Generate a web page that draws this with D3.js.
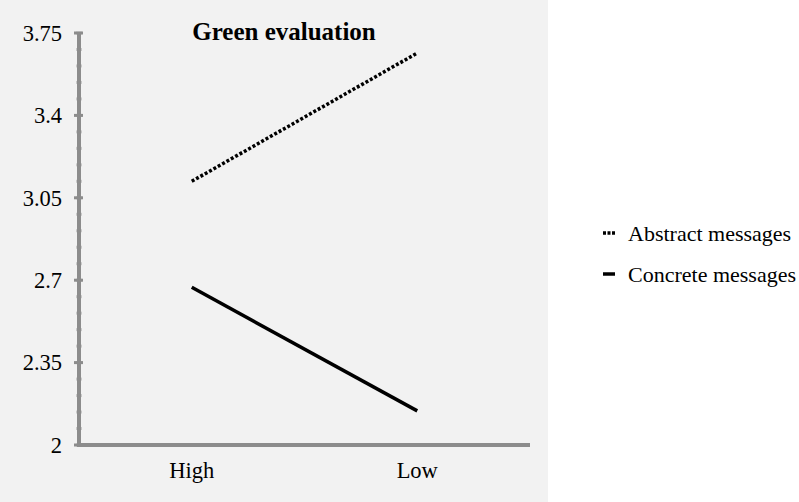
<!DOCTYPE html>
<html lang="en">
<head>
<meta charset="UTF-8">
<title>Green evaluation</title>
<script src="https://d3js.org/d3.v7.min.js"></script>
<style>
  body { margin: 0; background: #fff; }
  text { font-family: "Liberation Serif", "Times New Roman", serif; fill: #000; }
</style>
</head>
<body>
<svg id="chart"></svg>
<script>
// data
var categories = ["High", "Low"];
var seriesNames = ["Abstract messages", "Concrete messages"];
var abstractValues = [3.12, 3.665];
var concreteValues = [2.67, 2.145];
var yTicks = [2, 2.35, 2.7, 3.05, 3.4, 3.75];

var width = 799, height = 502;
var x0 = 79, x1 = 530, yTop = 33, yBottom = 445;

var svg = d3.select("#chart")
    .attr("width", width)
    .attr("height", height);

// gray plot panel
svg.append("rect")
    .attr("x", 0).attr("y", 0)
    .attr("width", 548).attr("height", height)
    .attr("fill", "#f2f2f2");

var x = d3.scalePoint().domain(categories).range([x0, x1]).padding(0.5);
var y = d3.scaleLinear().domain([2, 3.75]).range([yBottom, yTop]);

// minor ticks
var minor = d3.range(0, 26).map(function (i) { return 2 + i * 0.07; });
svg.selectAll(".minor")
    .data(minor)
  .enter().append("line")
    .attr("x1", x0 - 3).attr("x2", x0 + 3)
    .attr("y1", function (d) { return y(d); })
    .attr("y2", function (d) { return y(d); })
    .attr("stroke", "#c8c8c8")
    .attr("stroke-width", 3);

// major ticks
svg.selectAll(".major")
    .data(yTicks)
  .enter().append("line")
    .attr("x1", x0 - 5).attr("x2", x0 + 4)
    .attr("y1", function (d) { return y(d); })
    .attr("y2", function (d) { return y(d); })
    .attr("stroke", "#8c8c8c")
    .attr("stroke-width", 3);

// axes
svg.append("line")
    .attr("x1", x0).attr("x2", x0)
    .attr("y1", yTop).attr("y2", yBottom)
    .attr("stroke", "#8c8c8c").attr("stroke-width", 4);
svg.append("line")
    .attr("x1", x0 - 2).attr("x2", x1)
    .attr("y1", yBottom).attr("y2", yBottom)
    .attr("stroke", "#8c8c8c").attr("stroke-width", 4);

// tick labels
svg.selectAll(".ylab")
    .data(yTicks)
  .enter().append("text")
    .attr("x", 62)
    .attr("y", function (d) { return y(d); })
    .attr("dy", "0.35em")
    .attr("text-anchor", "end")
    .style("font-size", "22.5px")
    .text(function (d) { return d; });

svg.selectAll(".xlab")
    .data(categories)
  .enter().append("text")
    .attr("x", function (d) { return x(d); })
    .attr("y", 478)
    .attr("text-anchor", "middle")
    .style("font-size", "22.5px")
    .text(function (d) { return d; });

// title
svg.append("text")
    .attr("x", 284).attr("y", 40)
    .attr("text-anchor", "middle")
    .style("font-size", "25px")
    .style("font-weight", "bold")
    .text("Green evaluation");

// lines
var line = d3.line()
    .x(function (d, i) { return x(categories[i]); })
    .y(function (d) { return y(d); });

svg.append("path")
    .datum(abstractValues)
    .attr("d", line)
    .attr("fill", "none")
    .attr("stroke", "#000")
    .attr("stroke-width", 3.5)
    .attr("stroke-dasharray", "3,2");

svg.append("path")
    .datum(concreteValues)
    .attr("d", line)
    .attr("fill", "none")
    .attr("stroke", "#000")
    .attr("stroke-width", 3.5);

// legend
var legend = svg.selectAll(".legend")
    .data(seriesNames)
  .enter().append("g")
    .attr("transform", function (d, i) { return "translate(603," + (233 + i * 41) + ")"; });

legend.append("line")
    .attr("x1", 0).attr("x2", 12)
    .attr("y1", 0).attr("y2", 0)
    .attr("stroke", "#000")
    .attr("stroke-width", 3.5)
    .attr("stroke-dasharray", function (d, i) { return i === 0 ? "3,1.5" : null; });

legend.append("text")
    .attr("x", 25)
    .attr("y", 0)
    .attr("dy", "0.35em")
    .style("font-size", "22px")
    .text(function (d) { return d; });
</script>
</body>
</html>
